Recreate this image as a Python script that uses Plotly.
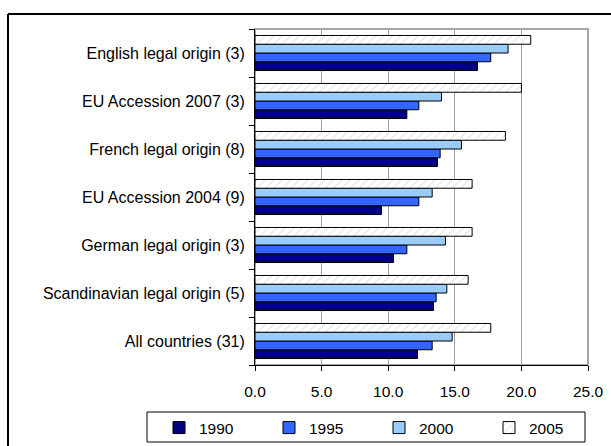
import plotly.graph_objects as go

# Groups, listed top to bottom as they appear on the chart
groups = [
    "English legal origin (3)",
    "EU Accession 2007 (3)",
    "French legal origin (8)",
    "EU Accession 2004 (9)",
    "German legal origin (3)",
    "Scandinavian legal origin (5)",
    "All countries (31)",
]

years = ["1990", "1995", "2000", "2005"]

v1990 = [16.7, 11.4, 13.7, 9.5, 10.4, 13.4, 12.2]
v1995 = [17.7, 12.3, 13.9, 12.3, 11.4, 13.6, 13.3]
v2000 = [19.0, 14.0, 15.5, 13.3, 14.3, 14.4, 14.8]
v2005 = [20.7, 20.0, 18.8, 16.3, 16.3, 16.0, 17.7]

x_ticks = [0, 5, 10, 15, 20, 25]

series = [v1990, v1995, v2000, v2005]
fills = ["#000080", "#3366FF", "#99CCFF", "#FFFFFF"]

W, H = 611, 446
L, R, T, B = 255, 588, 29, 365  # plot area in pixels


def px_x(p):
    return (p - L) / (R - L)


def px_y(p):
    return (B - p) / (B - T)


fig = go.Figure()

# plotly stacks horizontal groups bottom-up, so feed categories bottom first
cats = groups[::-1]
legend_ids = ["legend", "legend2", "legend3", "legend4"]
for name, vals, col, lg in zip(years, series, fills, legend_ids):
    marker = dict(color=col, line=dict(color="#000000", width=1))
    if name == "2005":
        marker["pattern"] = dict(shape="/", fgcolor="#d0d0d0", bgcolor="#FFFFFF",
                                 size=6, solidity=0.25)
    fig.add_trace(go.Bar(
        name=name, y=cats, x=vals[::-1], orientation="h", marker=marker,
        legend=lg, showlegend=True,
    ))

base = dict(family="Liberation Sans, Arial, sans-serif", color="#000000")
cat_font = dict(base, size=16)
tick_font = dict(base, size=15.5)
leg_font = dict(base, size=15.5)

# one single-entry legend per year, spaced evenly inside the legend box
legends = {}
for i, lg in enumerate(legend_ids):
    legends[lg] = dict(
        orientation="h", xref="container", yref="container",
        x=(159 + 110 * i) / W, y=1 - 428 / H, xanchor="left", yanchor="middle",
        bgcolor="rgba(0,0,0,0)", borderwidth=0, font=leg_font,
    )

fig.update_layout(
    width=W, height=H,
    margin=dict(l=L, r=W - R, t=T, b=H - B, pad=0, autoexpand=False),
    paper_bgcolor="#FFFFFF", plot_bgcolor="#FFFFFF",
    barmode="group", bargap=0.27, bargroupgap=0,
    font=tick_font,
    showlegend=True,
    xaxis=dict(
        range=[0, 25], tickvals=x_ticks, tickformat=".1f",
        showgrid=True, gridcolor="#a0a0a0", gridwidth=1,
        showline=True, linecolor="#000000", linewidth=1,
        ticks="outside", ticklen=5, tickcolor="#000000",
        zeroline=False, fixedrange=True, tickfont=tick_font,
        ticklabelstandoff=7,
    ),
    yaxis=dict(
        categoryorder="array", categoryarray=cats,
        showgrid=False, showline=True, linecolor="#000000", linewidth=1,
        ticks="outside", ticklen=5, tickcolor="#000000", tickson="boundaries",
        zeroline=False, fixedrange=True, tickfont=cat_font,
        ticklabelstandoff=6,
    ),
    shapes=[
        # plot area border (grey)
        dict(type="rect", xref="paper", yref="paper", x0=0, y0=0, x1=1, y1=1,
             line=dict(color="#a6a6a6", width=2), layer="below"),
        # outer chart frame
        dict(type="line", xref="paper", yref="paper",
             x0=px_x(8), y0=px_y(14), x1=px_x(8), y1=px_y(450),
             line=dict(color="#000000", width=2)),
        dict(type="line", xref="paper", yref="paper",
             x0=px_x(8), y0=px_y(14), x1=px_x(615), y1=px_y(14),
             line=dict(color="#000000", width=2)),
        # legend box
        dict(type="rect", xref="paper", yref="paper",
             x0=px_x(147), y0=px_y(412), x1=px_x(585), y1=px_y(442),
             line=dict(color="#000000", width=1), fillcolor="rgba(0,0,0,0)"),
    ],
    **legends,
)

fig.write_html("out.html")
